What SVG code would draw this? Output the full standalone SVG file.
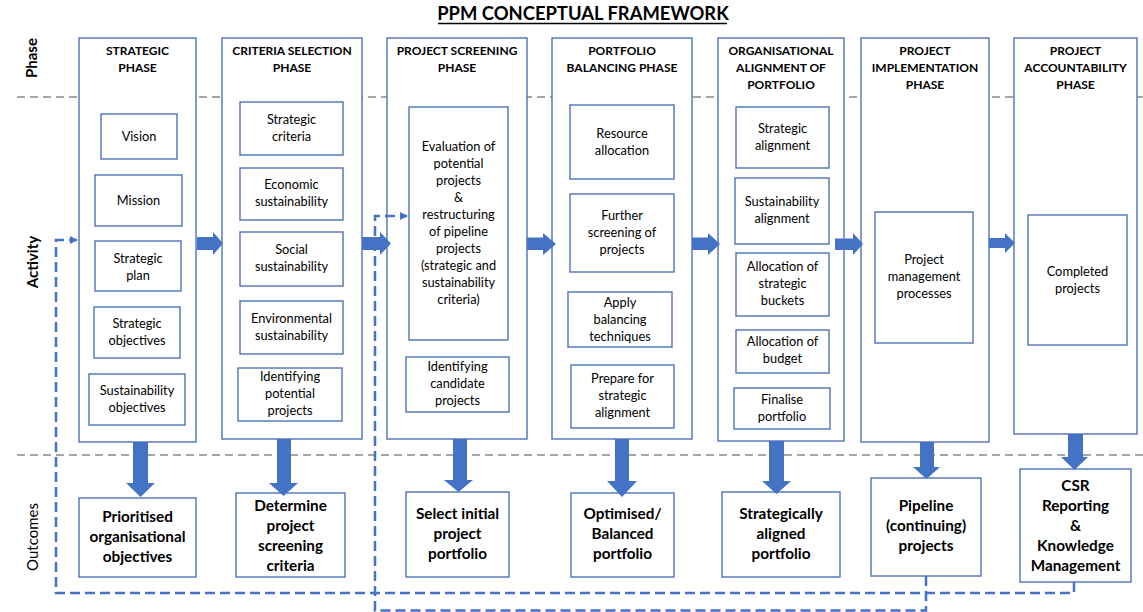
<svg xmlns="http://www.w3.org/2000/svg" width="1143" height="612" viewBox="0 0 1143 612">
<defs>
<style>
.col{fill:#fff;stroke:#4F72B8;stroke-width:1.4}
.box{fill:#fff;stroke:#4F72B8;stroke-width:1.4}
.hd{font-family:Lato,"Liberation Sans",sans-serif;font-weight:bold;font-size:12px;fill:#000;text-anchor:middle}
.tx{font-family:Lato,"Liberation Sans",sans-serif;font-size:12.8px;fill:#000;text-anchor:middle}
.out{font-family:Lato,"Liberation Sans",sans-serif;font-weight:bold;font-size:15.3px;fill:#000;text-anchor:middle}
.row{font-family:Lato,"Liberation Sans",sans-serif;font-weight:bold;font-size:15px;fill:#000;text-anchor:middle}
.blk{fill:#4472C4;stroke:none}
.dash{fill:none;stroke:#4472C4;stroke-width:2.5;stroke-dasharray:10 5}
.grid{fill:none;stroke:#A6A6A6;stroke-width:2;stroke-dasharray:8 5}
</style>
<marker id="ah" viewBox="0 0 10 10" refX="9" refY="5" markerWidth="3.2" markerHeight="3.2" orient="auto" markerUnits="strokeWidth">
<path d="M0,0 L10,5 L0,10 Z" fill="#4472C4"/>
</marker>
</defs>
<rect width="1143" height="612" fill="#fff"/>

<g id="title">
<text x="583" y="20" font-family="Lato,'Liberation Sans',sans-serif" font-weight="bold" font-size="18.4" text-anchor="middle">PPM CONCEPTUAL FRAMEWORK</text>
<line x1="438" y1="23.5" x2="727" y2="23.5" stroke="#000" stroke-width="1.5"/>
</g>

<g id="row-labels">
<text class="row" transform="translate(37,58) rotate(-90)">Phase</text>
<text class="row" transform="translate(38,262) rotate(-90)">Activity</text>
<text class="row" style="font-weight:normal;font-size:15px" transform="translate(38,537) rotate(-90)">Outcomes</text>
</g>

<g id="gridlines">
<line class="grid" x1="17" y1="97" x2="1143" y2="97"/>
<line class="grid" x1="17" y1="455" x2="1143" y2="455"/>
</g>

<g id="phase-strategic">
<rect class="col" x="79" y="38" width="117" height="404"/>
<text class="hd" x="137.5" y="55">STRATEGIC<tspan x="137.5" dy="17">PHASE</tspan></text>
</g>
<g id="phase-criteria">
<rect class="col" x="222" y="38" width="140" height="401"/>
<text class="hd" x="292" y="55">CRITERIA SELECTION<tspan x="292" dy="17">PHASE</tspan></text>
</g>
<g id="phase-screening">
<rect class="col" x="387" y="38" width="140" height="401"/>
<text class="hd" x="457" y="55">PROJECT SCREENING<tspan x="457" dy="17">PHASE</tspan></text>
</g>
<g id="phase-balancing">
<rect class="col" x="552" y="38" width="140" height="401"/>
<text class="hd" x="622" y="55">PORTFOLIO<tspan x="622" dy="17">BALANCING PHASE</tspan></text>
</g>
<g id="phase-alignment">
<rect class="col" x="718" y="38" width="126" height="403"/>
<text class="hd" x="781" y="55">ORGANISATIONAL<tspan x="781" dy="17">ALIGNMENT OF</tspan><tspan x="781" dy="17">PORTFOLIO</tspan></text>
</g>
<g id="phase-implementation">
<rect class="col" x="861" y="38" width="128" height="404"/>
<text class="hd" x="925" y="55">PROJECT<tspan x="925" dy="17">IMPLEMENTATION</tspan><tspan x="925" dy="17">PHASE</tspan></text>
</g>
<g id="phase-accountability">
<rect class="col" x="1014" y="38" width="123" height="396"/>
<text class="hd" x="1075.5" y="55">PROJECT<tspan x="1075.5" dy="17">ACCOUNTABILITY</tspan><tspan x="1075.5" dy="17">PHASE</tspan></text>
</g>

<!-- Strategic activities -->
<g id="a-vision"><rect class="box" x="101" y="114" width="76" height="45"/><text class="tx" x="139" y="141">Vision</text></g>
<g id="a-mission"><rect class="box" x="95" y="175" width="87" height="51"/><text class="tx" x="138.5" y="205">Mission</text></g>
<g id="a-plan"><rect class="box" x="95" y="241" width="86" height="50"/><text class="tx" x="138" y="262.5">Strategic<tspan x="138" dy="17">plan</tspan></text></g>
<g id="a-objectives"><rect class="box" x="94" y="307" width="86" height="51"/><text class="tx" x="137" y="328">Strategic<tspan x="137" dy="17">objectives</tspan></text></g>
<g id="a-sust-objectives"><rect class="box" x="89" y="374" width="96" height="51"/><text class="tx" x="137" y="395">Sustainability<tspan x="137" dy="17">objectives</tspan></text></g>

<!-- Criteria activities -->
<g id="a-strat-criteria"><rect class="box" x="240" y="102" width="103" height="53"/><text class="tx" x="291.5" y="124">Strategic<tspan x="291.5" dy="17">criteria</tspan></text></g>
<g id="a-economic"><rect class="box" x="240" y="168" width="103" height="52"/><text class="tx" x="291.5" y="189">Economic<tspan x="291.5" dy="17">sustainability</tspan></text></g>
<g id="a-social"><rect class="box" x="240" y="232" width="103" height="54"/><text class="tx" x="291.5" y="254">Social<tspan x="291.5" dy="17">sustainability</tspan></text></g>
<g id="a-environmental"><rect class="box" x="240" y="301" width="103" height="53"/><text class="tx" x="291.5" y="323">Environmental<tspan x="291.5" dy="17">sustainability</tspan></text></g>
<g id="a-identify-potential"><rect class="box" x="238" y="368" width="104" height="53"/><text class="tx" x="290" y="380.5">Identifying<tspan x="290" dy="17">potential</tspan><tspan x="290" dy="17">projects</tspan></text></g>

<!-- Screening activities -->
<g id="a-evaluation"><rect class="box" x="409" y="107" width="99" height="233"/>
<text class="tx" x="458.5" y="150.5">Evaluation of<tspan x="458.5" dy="17">potential</tspan><tspan x="458.5" dy="17">projects</tspan><tspan x="458.5" dy="17">&amp;</tspan><tspan x="458.5" dy="17">restructuring</tspan><tspan x="458.5" dy="17">of pipeline</tspan><tspan x="458.5" dy="17">projects</tspan><tspan x="458.5" dy="17">(strategic and</tspan><tspan x="458.5" dy="17">sustainability</tspan><tspan x="458.5" dy="17">criteria)</tspan></text></g>
<g id="a-candidate"><rect class="box" x="406" y="357" width="103" height="55"/><text class="tx" x="457.5" y="371">Identifying<tspan x="457.5" dy="17">candidate</tspan><tspan x="457.5" dy="17">projects</tspan></text></g>

<!-- Balancing activities -->
<g id="a-resource"><rect class="box" x="570" y="105" width="104" height="74"/><text class="tx" x="622" y="137.5">Resource<tspan x="622" dy="17">allocation</tspan></text></g>
<g id="a-further"><rect class="box" x="570" y="194" width="104" height="78"/><text class="tx" x="622" y="219.5">Further<tspan x="622" dy="17">screening of</tspan><tspan x="622" dy="17">projects</tspan></text></g>
<g id="a-balancing"><rect class="box" x="568" y="292" width="104" height="55"/><text class="tx" x="620" y="306.5">Apply<tspan x="620" dy="17">balancing</tspan><tspan x="620" dy="17">techniques</tspan></text></g>
<g id="a-prepare"><rect class="box" x="571" y="365" width="103" height="63"/><text class="tx" x="622.5" y="382.5">Prepare for<tspan x="622.5" dy="17">strategic</tspan><tspan x="622.5" dy="17">alignment</tspan></text></g>

<!-- Alignment activities -->
<g id="a-strat-align"><rect class="box" x="736" y="107" width="93" height="61"/><text class="tx" x="782.5" y="133">Strategic<tspan x="782.5" dy="17">alignment</tspan></text></g>
<g id="a-sust-align"><rect class="box" x="735" y="178" width="94" height="66"/><text class="tx" x="782" y="206">Sustainability<tspan x="782" dy="17">alignment</tspan></text></g>
<g id="a-buckets"><rect class="box" x="736" y="253" width="93" height="63"/><text class="tx" x="782.5" y="271">Allocation of<tspan x="782.5" dy="17">strategic</tspan><tspan x="782.5" dy="17">buckets</tspan></text></g>
<g id="a-budget"><rect class="box" x="736" y="330" width="93" height="43"/><text class="tx" x="782.5" y="346">Allocation of<tspan x="782.5" dy="17">budget</tspan></text></g>
<g id="a-finalise"><rect class="box" x="734" y="388" width="96" height="41"/><text class="tx" x="782" y="403.5">Finalise<tspan x="782" dy="17">portfolio</tspan></text></g>

<!-- Implementation / Accountability activities -->
<g id="a-pm"><rect class="box" x="875" y="212" width="98" height="131"/><text class="tx" x="924" y="264">Project<tspan x="924" dy="17">management</tspan><tspan x="924" dy="17">processes</tspan></text></g>
<g id="a-completed"><rect class="box" x="1028" y="215" width="99" height="130"/><text class="tx" x="1077.5" y="275.5">Completed<tspan x="1077.5" dy="17">projects</tspan></text></g>

<!-- Outcomes -->
<g id="o-prioritised"><rect class="box" x="79" y="498" width="117" height="79"/><text class="out" x="137.5" y="522">Prioritised<tspan x="137.5" dy="20">organisational</tspan><tspan x="137.5" dy="20">objectives</tspan></text></g>
<g id="o-determine"><rect class="box" x="236" y="493" width="109" height="84"/><text class="out" x="290.5" y="511">Determine<tspan x="290.5" dy="20">project</tspan><tspan x="290.5" dy="20">screening</tspan><tspan x="290.5" dy="20">criteria</tspan></text></g>
<g id="o-select"><rect class="box" x="406" y="492" width="103" height="85"/><text class="out" x="457.5" y="519">Select initial<tspan x="457.5" dy="20">project</tspan><tspan x="457.5" dy="20">portfolio</tspan></text></g>
<g id="o-optimised"><rect class="box" x="571" y="493" width="103" height="84"/><text class="out" x="622.5" y="519">Optimised/<tspan x="622.5" dy="20">Balanced</tspan><tspan x="622.5" dy="20">portfolio</tspan></text></g>
<g id="o-aligned"><rect class="box" x="722" y="492" width="118" height="85"/><text class="out" x="781" y="519">Strategically<tspan x="781" dy="20">aligned</tspan><tspan x="781" dy="20">portfolio</tspan></text></g>
<g id="o-pipeline"><rect class="box" x="871" y="478" width="110" height="98"/><text class="out" x="926" y="511">Pipeline<tspan x="926" dy="20">(continuing)</tspan><tspan x="926" dy="20">projects</tspan></text></g>
<g id="o-csr"><rect class="box" x="1020" y="469" width="111" height="113"/><text class="out" x="1075.5" y="491">CSR<tspan x="1075.5" dy="20">Reporting</tspan><tspan x="1075.5" dy="20">&amp;</tspan><tspan x="1075.5" dy="20">Knowledge</tspan><tspan x="1075.5" dy="20">Management</tspan></text></g>

<g id="connectors">
<polygon class="blk" points="197,237 213,237 213,232 223,243.5 213,255 213,250 197,250"/>
<polygon class="blk" points="362,237 380,237 380,232 391,243.5 380,255 380,250 362,250"/>
<polygon class="blk" points="527,237.5 543,237.5 543,233 556,244 543,255 543,250 527,250"/>
<polygon class="blk" points="692,237.5 708,237.5 708,233 720,244 708,255 708,250 692,250"/>
<polygon class="blk" points="835,238.5 853,238.5 853,233 863,244 853,255 853,250 835,250"/>
<polygon class="blk" points="989,238 1005,238 1005,233 1015,243 1005,253 1005,248 989,248"/>
<polygon class="blk" points="133,442 148,442 148,483 155,483 140.5,497 126,483 133,483"/>
<polygon class="blk" points="277,439 291,439 291,483 298,483 283.5,496 269,483 277,483"/>
<polygon class="blk" points="453,439 467,439 467,480 473,480 458.5,492 444,480 453,480"/>
<polygon class="blk" points="615,439 629,439 629,481 637,481 622,497 607,481 615,481"/>
<polygon class="blk" points="769,441 784,441 784,481 791,481 776.5,494 762,481 769,481"/>
<polygon class="blk" points="920,442 934,442 934,467 940,467 926.5,479 913,467 920,467"/>
<polygon class="blk" points="1068,434 1083,434 1083,457 1088,457 1074.5,470 1061,457 1068,457"/>
<path class="dash" d="M1074,582 V593 H56 V240 H77" marker-end="url(#ah)"/>
<path class="dash" d="M926,576 V610.5 H375 V216 H407" marker-end="url(#ah)"/>
</g>
</svg>
